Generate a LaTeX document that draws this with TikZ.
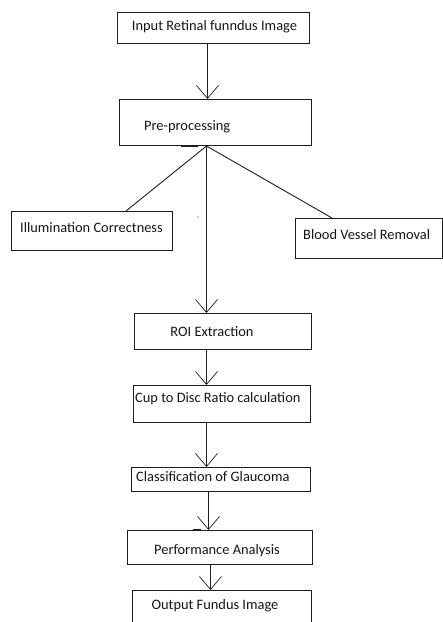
\documentclass[tikz,border=0pt]{standalone}
\usepackage{fontspec}
\setmainfont{Carlito}
\usetikzlibrary{arrows.meta}
\definecolor{ink}{RGB}{20,20,30}
\definecolor{lin}{RGB}{30,30,30}
\begin{document}
\begin{tikzpicture}[x=1pt,y=-1pt,
  boxst/.style={draw=lin,line width=1pt,inner sep=0pt,anchor=north west},
  txt/.style={text=ink,inner sep=0pt,font=\fontsize{14.4}{16}\selectfont},
  arr/.style={draw=lin,line width=0.9pt,-{Straight Barb[length=13pt,width=22pt,line width=0.7pt]}},
  con/.style={draw=lin,line width=0.9pt},
  blot/.style={draw=lin,line width=2pt}]
\useasboundingbox (0,0) rectangle (443,622);
% boxes
\node[boxst,minimum width=192pt,minimum height=31pt] (b1) at (117,12) {};
\node[boxst,minimum width=192pt,minimum height=46pt] (b2) at (119,99) {};
\node[boxst,minimum width=161pt,minimum height=39pt] (b3) at (11,211) {};
\node[boxst,minimum width=147pt,minimum height=40pt] (b4) at (295,218) {};
\node[boxst,minimum width=177pt,minimum height=36pt] (b5) at (134,313) {};
\node[boxst,minimum width=177pt,minimum height=37pt] (b6) at (133,385) {};
\node[boxst,minimum width=179pt,minimum height=24pt] (b7) at (131,467) {};
\node[boxst,minimum width=185pt,minimum height=34pt] (b8) at (127,530) {};
\node[boxst,minimum width=179pt,minimum height=40pt] (b9) at (132,590) {};
% texts
\node[txt] (t1) at (214.5,27) {Input Retinal funndus Image};
\node[txt,anchor=west] (t2) at (144,127) {Pre-processing};
\node[txt,anchor=west] (t3) at (20,228) {Illumination Correctness};
\node[txt,anchor=west] (t4) at (303,235) {Blood Vessel Removal};
\node[txt] (t5) at (212,332) {ROI Extraction};
\node[txt,anchor=west] (t6) at (135,399) {Cup to Disc Ratio calculation};
\node[txt,anchor=west] (t7) at (136,477) {Classification of Glaucoma};
\node[txt] (t8) at (217,551) {Performance Analysis};
\node[txt] (t9) at (215,606) {Output Fundus Image};
% connectors
\coordinate (p) at ([xshift=-9pt]b2.south);
\draw[arr] ([xshift=-6pt]b1.south) -- ([xshift=-6pt]b1.south |- b2.north);
\draw[con] (p) -- ([xshift=115pt]b3.north west);
\draw[con] (p) -- ([xshift=37pt]b4.north west);
\draw[arr] (p) -- (p |- b5.north);
\draw[arr] ([xshift=-16.5pt]b5.south) -- ([xshift=-16.5pt]b5.south |- b6.north);
\draw[arr] ([xshift=-15.5pt]b6.south) -- ([xshift=-15.5pt]b6.south |- b7.north);
\draw[arr] ([xshift=-12.5pt]b7.south) -- ([xshift=-12.5pt]b7.south |- b8.north);
\draw[arr] ([xshift=-9.5pt]b8.south) -- ([xshift=-9.5pt]b8.south |- b9.north);
% small marks
\draw[blot] ([xshift=-35pt]b2.south) -- ([xshift=-18pt]b2.south);
\draw[blot] ([xshift=-27pt]b8.north) -- ([xshift=-19pt]b8.north);
\fill[lin] (198,217) circle (0.7pt);
\end{tikzpicture}
\end{document}
